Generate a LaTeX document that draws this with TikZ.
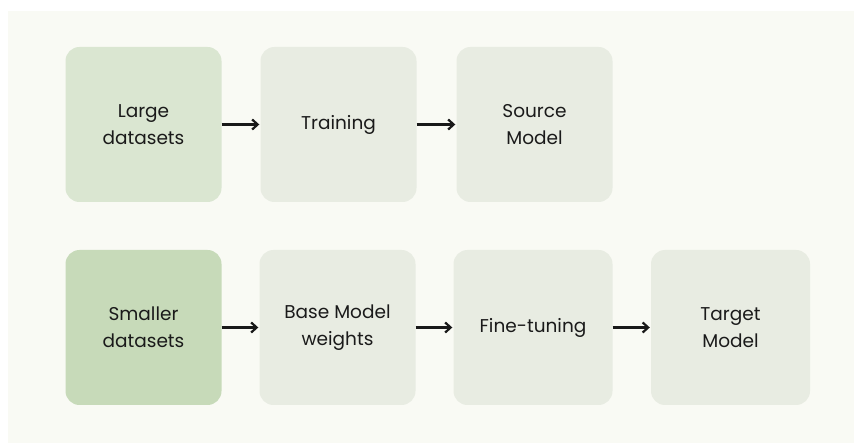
\documentclass[tikz,border=0pt]{standalone}
\usepackage{fontspec}
\setmainfont{Poppins}
\usetikzlibrary{arrows.meta}
\definecolor{bgc}{HTML}{F9FAF4}
\definecolor{boxg}{HTML}{E8ECE2}
\definecolor{boxl}{HTML}{DAE6D1}
\definecolor{boxd}{HTML}{C7DAB9}
\definecolor{txt}{HTML}{1A1A1A}
\tikzset{
  stage/.style={rounded corners=14pt, minimum width=156pt, minimum height=155pt, inner sep=0pt,
    align=center, text=txt, font=\fontsize{18.5pt}{27pt}\selectfont},
  flow/.style={line width=2.2pt, draw=black!90, -{Straight Barb[length=5.5pt,width=10pt,line width=2.2pt]}}
}
\begin{document}
\begin{tikzpicture}[x=1pt,y=-1pt]
\useasboundingbox (0,0) rectangle (854,443);
\fill[white] (0,0) rectangle (854,443);
\fill[bgc] (8,11) rectangle (854,443);
\node[stage, fill=boxl] (large) at (143.5,124.5) {Large\\datasets};
\node[stage, fill=boxg] (train) at (338.5,124.5) {Training};
\node[stage, fill=boxg] (source) at (534.5,124.5) {Source\\Model};
\node[stage, fill=boxd] (small) at (143.5,327.5) {Smaller\\datasets};
\node[stage, fill=boxg] (base) at (337.5,327.5) {Base Model\\weights};
\node[stage, fill=boxg, minimum width=159pt] (fine) at (533,327.5) {Fine-tuning};
\node[stage, fill=boxg, minimum width=159pt] (target) at (730.5,327.5) {Target\\Model};
\draw[flow] (large.east) -- ([xshift=-1pt]train.west);
\draw[flow] (train.east) -- ([xshift=-1pt]source.west);
\draw[flow] (small.east) -- ([xshift=-1pt]base.west);
\draw[flow] (base.east) -- ([xshift=-1pt]fine.west);
\draw[flow] (fine.east) -- ([xshift=-1pt]target.west);
\end{tikzpicture}
\end{document}
